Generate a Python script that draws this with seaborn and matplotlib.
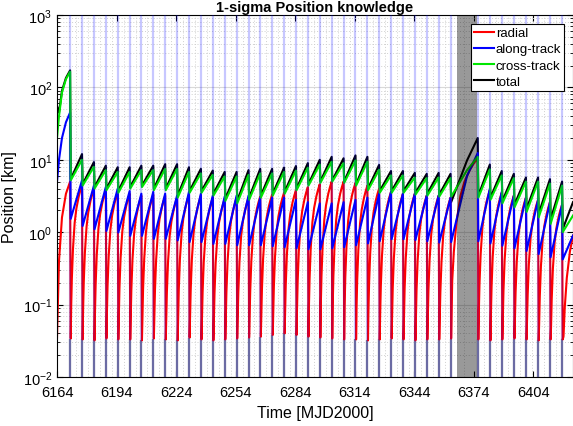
import numpy as np
import pandas as pd
import seaborn as sns
import matplotlib.pyplot as plt
from matplotlib.ticker import LogLocator, NullFormatter

# ---- data ----
# tracking pass epochs [MJD2000]
pass_t = [6170.6, 6176.6, 6182.6, 6188.6, 6194.6, 6200.6, 6206.5, 6212.5, 6218.5, 6224.5,
          6230.5, 6236.5, 6242.5, 6248.5, 6254.5, 6260.5, 6266.4, 6272.4, 6278.4, 6284.4,
          6290.4, 6296.4, 6302.4, 6308.4, 6314.4, 6320.4, 6326.3, 6332.3, 6338.3, 6344.3,
          6350.3, 6356.3, 6362.3,
          6376.0, 6382.1, 6388.1, 6394.2, 6400.3, 6406.4, 6412.4, 6418.5]

# values just before each pass (peak) and just after it (min) [km]
total_peak = [172, 12.0, 9.3, 8.3, 7.9, 7.9, 8.3, 8.3, 8.7, 8.7, 7.9, 7.5, 7.1, 6.8, 6.8,
              7.2, 7.5, 7.5, 7.8, 8.2, 9.0, 10.0, 11.0, 10.5, 11.5, 11.0, 8.5, 7.0, 7.0,
              6.6, 6.4, 6.6, 6.4, 20.0, 8.6, 7.0, 6.4, 5.7, 5.7, 5.4, 5.0]
total_min = [5.4, 4.6, 4.2, 4.0, 3.7, 4.2, 4.4, 4.0, 4.0, 3.2, 3.7, 3.7, 3.4, 2.9, 2.7,
             3.0, 3.2, 3.4, 3.6, 4.0, 4.6, 5.0, 5.2, 5.0, 4.6, 4.0, 3.7, 3.7, 3.7, 3.5,
             3.4, 3.3, 2.6, 3.2, 3.0, 2.7, 2.4, 2.1, 1.8, 1.5, 1.1]
cross_peak = [165, 10.0, 8.0, 7.2, 6.8, 6.8, 7.2, 7.2, 7.5, 7.5, 6.8, 6.5, 6.2, 5.9, 5.9,
              6.2, 6.5, 6.5, 6.8, 7.1, 7.8, 8.6, 9.4, 9.0, 9.8, 9.4, 7.3, 6.1, 6.1, 5.7,
              5.6, 5.7, 5.6, 11.0, 7.4, 6.1, 5.6, 5.0, 5.0, 4.7, 4.4]
cross_min = [5.2, 4.4, 4.0, 3.8, 3.5, 4.0, 4.2, 3.8, 3.8, 3.0, 3.5, 3.5, 3.2, 2.7, 2.5,
             2.8, 3.0, 3.2, 3.4, 3.8, 4.4, 4.8, 5.0, 4.8, 4.4, 3.8, 3.5, 3.5, 3.5, 3.3,
             3.2, 3.1, 3.1, 3.0, 2.8, 2.5, 2.2, 1.9, 1.6, 1.3, 1.0]
along_peak = [45, 5.2, 4.4, 4.2, 4.0, 3.7, 3.4, 3.6, 3.4, 3.2, 3.6, 3.4, 3.2, 3.1, 3.2,
              3.2, 3.0, 3.0, 3.0, 2.8, 2.6, 2.5, 2.5, 2.6, 2.8, 3.0, 3.4, 3.6, 3.4, 3.4,
              3.2, 3.2, 3.0, 12.4, 4.0, 3.6, 3.2, 3.0, 2.8, 2.6, 2.4]
along_min = [1.53, 1.22, 1.10, 1.04, 0.99, 0.89, 0.89, 0.81, 0.81, 0.77, 0.73, 0.73, 0.69,
             0.69, 0.66, 0.66, 0.66, 0.64, 0.62, 0.60, 0.58, 0.58, 0.60, 0.62, 0.66, 0.70,
             0.75, 0.80, 0.80, 0.78, 0.75, 0.72, 0.73, 0.75, 0.70, 0.65, 0.60, 0.55, 0.50,
             0.45, 0.42]
radial_peak = [5.0, 4.5, 4.0, 3.8, 3.6, 3.4, 3.2, 3.3, 3.2, 3.0, 3.3, 3.2, 3.0, 2.9, 3.0,
               3.0, 3.1, 3.3, 3.5, 3.8, 4.2, 4.6, 5.0, 5.0, 4.8, 4.4, 4.0, 3.6, 3.4, 3.4,
               3.2, 3.2, 3.0, 10.6, 3.8, 3.5, 3.2, 3.0, 2.8, 2.6, 2.4]
radial_min = [0.034, 0.033, 0.032, 0.034, 0.033, 0.033, 0.032, 0.034, 0.033, 0.032, 0.035,
              0.033, 0.032, 0.033, 0.034, 0.035, 0.036, 0.038, 0.040, 0.038, 0.036, 0.035,
              0.034, 0.033, 0.033, 0.032, 0.033, 0.034, 0.033, 0.032, 0.033, 0.033, 0.034,
              0.033, 0.032, 0.033, 0.034, 0.033, 0.032, 0.033, 0.033]

# first arc, before the first pass
init_t = [6164.0, 6165.0, 6166.5, 6168.5]
init_total = [55, 45, 90, 135]
init_cross = [20, 40, 85, 130]
init_along = [5, 10, 20, 33]
init_radial = [0.035, 0.4, 1.6, 3.4]

# mid point of the long arc without passes
gap_mid_t = 6370.6
gap_mid = {'along-track': 6.0, 'cross-track': 7.2, 'total': 9.8}

# end of the plotted span
end_t = 6424.0
end_vals = {'radial': 0.9, 'along-track': 0.9, 'cross-track': 1.7, 'total': 2.6}

# radial growth profile within one arc (fraction of arc, fraction of peak)
arc_frac = [0.04, 0.1, 0.2, 0.35, 0.5, 0.7, 0.85]
radial_frac = [0.02, 0.05, 0.13, 0.30, 0.47, 0.68, 0.84]

gap_span = (6365.7, 6375.8)
drop = 0.3

series = {
    'radial': (init_radial, radial_peak, radial_min),
    'along-track': (init_along, along_peak, along_min),
    'cross-track': (init_cross, cross_peak, cross_min),
    'total': (init_total, total_peak, total_min),
}
colors = {'radial': '#ff0000', 'along-track': '#0000ff',
          'cross-track': '#00e600', 'total': '#000000'}

rows = []
for name, (init, peak, low) in series.items():
    for t, v in zip(init_t, init):
        rows.append((name, t, v))
    for i, tp in enumerate(pass_t):
        rows.append((name, tp, peak[i]))
        rows.append((name, tp + drop, low[i]))
        t_next = pass_t[i + 1] if i + 1 < len(pass_t) else None
        if name == 'radial':
            if t_next is not None:
                top, span = peak[i + 1], t_next - tp - drop
            else:
                top, span = end_vals[name] / 0.5, (end_t - tp - drop) / 0.5
            for f, r in zip(arc_frac, radial_frac):
                tt = tp + drop + f * span
                if tt < end_t:
                    rows.append((name, tt, max(low[i], r * top)))
        elif t_next is not None and tp < gap_mid_t < t_next:
            rows.append((name, gap_mid_t, gap_mid[name]))
    rows.append((name, end_t, end_vals[name]))

df = pd.DataFrame(rows, columns=['series', 't', 'pos'])

# dotted markers half way between passes
mid_t = [(a + b) / 2 for a, b in zip(pass_t[:-1], pass_t[1:])]

# ---- figure ----
plt.rcParams['font.family'] = ['Liberation Sans', 'DejaVu Sans']
fig = plt.figure(figsize=(5.73, 4.27), dpi=100)
ax = fig.add_axes([0.0995, 0.1148, 0.9005, 0.8477])

ax.set_yscale('log')
ax.set_ylim(1e-2, 1e3)
ax.set_xlim(6164, end_t)

ax.grid(True, which='major', axis='y', color='#d9d9d9', lw=0.8, ls='-')
ax.grid(True, which='minor', axis='y', color='#cfcfcf', lw=0.7, ls=(0, (1, 2)))
ax.set_axisbelow(True)
ax.vlines(mid_t, 1e-2, 1e3, color='#cfcfcf', lw=0.7, ls=(0, (1, 2)), zorder=0.6)

# grey stems below the radial minimum at each pass
ax.vlines(pass_t, 1e-2, radial_min, color='#8a8a8a', lw=1.6, zorder=1.8)

order = ['total', 'radial', 'along-track', 'cross-track']
sns.lineplot(data=df, x='t', y='pos', hue='series', hue_order=order, palette=colors,
             estimator=None, sort=False, lw=1.5, ax=ax, legend=False, zorder=2)

# translucent pass markers over the curves
ax.vlines(pass_t, 1e-2, 1e3, color='#0000ff', alpha=0.22, lw=1.6, zorder=2.6)
ax.axvspan(*gap_span, color='k', alpha=0.4, lw=0, zorder=3)

handles = [plt.Line2D([], [], color=colors[k], lw=1.5) for k in series]
leg = ax.legend(handles, list(series), loc='upper right', fontsize=9.5,
                fancybox=False, framealpha=1, edgecolor='k', handlelength=1.5,
                handletextpad=0.15, borderpad=0.25, labelspacing=0.3,
                borderaxespad=0.65)
leg.get_frame().set_linewidth(0.8)
leg.set_zorder(5)

ax.set_xticks(np.arange(6164, 6405, 30))
ax.yaxis.set_major_locator(LogLocator(base=10, numticks=10))
ax.yaxis.set_minor_locator(LogLocator(base=10, subs=np.arange(2, 10), numticks=20))
ax.yaxis.set_minor_formatter(NullFormatter())
ax.tick_params(which='both', direction='in', top=True, right=True, labelsize=10.5)
ax.tick_params(which='major', length=4, width=0.8)
ax.tick_params(axis='x', pad=6)
ax.tick_params(which='minor', length=2.5, width=0.6)
for s in ax.spines.values():
    s.set_linewidth(0.8)

ax.set_xlabel('Time [MJD2000]', fontsize=11.5)
ax.set_ylabel('Position [km]', fontsize=11.5)
ax.set_title('1-sigma Position knowledge', fontsize=10.5, fontweight='bold', pad=3)

fig.savefig('out.png', dpi=100)
